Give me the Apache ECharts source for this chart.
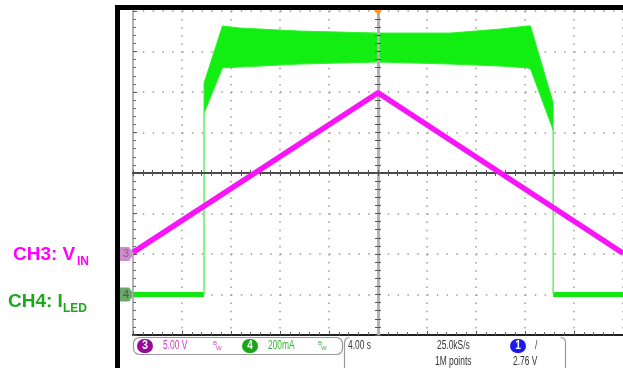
<!DOCTYPE html>
<html>
<head>
<meta charset="utf-8">
<script src="https://cdn.jsdelivr.net/npm/echarts@6/dist/echarts.min.js"></script>
<style>
  html, body { margin: 0; padding: 0; background: #fff; }
  #scope { width: 623px; height: 368px; }
</style>
</head>
<body>
<div id="scope"></div>
<script>
// CH3: input voltage ramp, time in s, volts
const vinTime = [-20, 0, 20]
const vinVolts = [0.2, 19.9, 0.1]

// CH4: LED current in mA
const ledOnTime = -14.2
const ledOffTime = 14.3
const ledOffLevel = 0
const bandTime = [-14.2, -12.7, -11.3, -6.4, 0, 5.9, 10.0, 12.2, 12.45, 14.3]
const bandTop = [1044, 1326, 1316, 1301, 1291, 1291, 1311, 1326, 1326, 946]
const bandBottom = [895, 1119, 1123, 1138, 1148, 1138, 1128, 1119, 1114, 812]

// scope settings: 4.00 s/div, 5.00 V/div, 200 mA/div
const timeMin = -20, timeMax = 20, timeDiv = 4
const voltMin = -10, voltMax = 30
const ampMin = -200, ampMax = 1400
const divMin = -4, divMax = 4

const infoFont = '12px "Liberation Sans", Arial, sans-serif'
const chart = echarts.init(document.getElementById('scope'))

const gap = [0, '-']

function centerX(position) {
  return {
    type: 'value', min: timeMin, max: timeMax, interval: timeDiv, position, z: 3,
    axisLine: { onZero: true, onZeroAxisIndex: 2, lineStyle: { color: '#4a4a4a', width: 2 } },
    axisTick: { show: true, length: 3, lineStyle: { color: '#555' } },
    minorTick: { show: true, splitNumber: 5, length: 3, lineStyle: { color: '#555' } },
    axisLabel: { show: false },
    splitLine: { show: false },
  }
}

function centerY(position) {
  return {
    type: 'value', min: divMin, max: divMax, interval: 1, position, z: 3,
    axisLine: { onZero: true, onZeroAxisIndex: 0, lineStyle: { color: '#b0b0b0', width: 2.5 } },
    axisTick: { show: true, length: 3, lineStyle: { color: '#555' } },
    minorTick: { show: true, splitNumber: 5, length: 3, lineStyle: { color: '#555' } },
    axisLabel: { show: false },
    splitLine: { show: false },
  }
}

// switching ripple band of the LED current, drawn between its two envelopes
function renderBand(params, api) {
  const upper = bandTime.map((t, i) => api.coord([t, bandTop[i]]))
  const lower = bandTime.map((t, i) => api.coord([t, bandBottom[i]])).reverse()
  return {
    type: 'polygon',
    shape: { points: upper.concat(lower) },
    style: { fill: '#12ee12', stroke: '#2af22a', lineWidth: 1 },
  }
}

const option = {
  animation: false,
  backgroundColor: '#fff',
  grid: { left: 133, right: 0, top: 11, bottom: 33 },
  xAxis: [
    {
      type: 'value', min: timeMin, max: timeMax, interval: timeDiv, position: 'bottom',
      axisLine: { onZero: false, lineStyle: { color: '#222', width: 2 } },
      axisTick: { show: true, inside: true, length: 4, lineStyle: { color: '#555' } },
      minorTick: { show: true, splitNumber: 5, length: 3, lineStyle: { color: '#666' } },
      axisLabel: { show: false },
      splitLine: { show: true, lineStyle: { color: '#9a9a9a', width: 1.5, type: [1.5, 6.6] } },
    },
    centerX('bottom'),
    centerX('top'),
  ],
  yAxis: [
    { type: 'value', min: voltMin, max: voltMax, show: false },
    { type: 'value', min: ampMin, max: ampMax, show: false },
    {
      type: 'value', min: divMin, max: divMax, interval: 1, position: 'left',
      axisLine: { onZero: false, lineStyle: { color: '#b4b4b4', width: 2 } },
      axisTick: { show: true, inside: true, length: 4, lineStyle: { color: '#555' } },
      minorTick: { show: true, splitNumber: 5, length: 3, lineStyle: { color: '#666' } },
      axisLabel: { show: false },
      splitLine: { show: true, lineStyle: { color: '#9a9a9a', width: 1.5, type: [1.5, 8.3] } },
    },
    centerY('left'),
    centerY('right'),
  ],
  series: [
    {
      name: 'CH4 off',
      type: 'line', xAxisIndex: 0, yAxisIndex: 1, z: 2,
      showSymbol: false, connectNulls: false,
      lineStyle: { color: '#14e614', width: 5 },
      data: [[timeMin, ledOffLevel], [ledOnTime, ledOffLevel], gap, [ledOffTime, ledOffLevel], [timeMax, ledOffLevel]],
    },
    {
      name: 'CH4 edge',
      type: 'line', xAxisIndex: 0, yAxisIndex: 1, z: 2,
      showSymbol: false, connectNulls: false,
      lineStyle: { color: '#66ee66', width: 1.5 },
      data: [
        [ledOnTime, ledOffLevel], [ledOnTime, bandBottom[0]], gap,
        [ledOffTime, bandBottom[bandBottom.length - 1]], [ledOffTime, ledOffLevel],
      ],
    },
    {
      name: 'CH4 band',
      type: 'custom', xAxisIndex: 0, yAxisIndex: 1, z: 2,
      data: [[0, 0]],
      renderItem: renderBand,
    },
    {
      name: 'CH3',
      type: 'line', xAxisIndex: 0, yAxisIndex: 0, z: 5,
      showSymbol: false,
      lineStyle: { color: '#fa14fa', width: 5.5 },
      data: vinTime.map((t, i) => [t, vinVolts[i]]),
    },
  ],
}

chart.setOption(option)

// markers that follow the scales
const ch3Y = chart.convertToPixel({ yAxisIndex: 0 }, 0)
const ch4Y = chart.convertToPixel({ yAxisIndex: 1 }, 0)
const trigX = chart.convertToPixel({ xAxisIndex: 0 }, 0)

function chMarker(y, fill, textFill, label) {
  return {
    type: 'group', z: 20,
    children: [
      { type: 'polygon', shape: { points: [[120, y - 7], [129, y - 7], [134, y], [129, y + 7], [120, y + 7]] }, style: { fill } },
      { type: 'text', x: 126, y: y, style: { text: label, fill: textFill, font: '11px "Liberation Sans", sans-serif', align: 'center', verticalAlign: 'middle' } },
    ],
  }
}

function txt(x, y, text, fill, font, scaleX) {
  return { type: 'text', x, y, z: 20, scaleX: scaleX || 1, style: { text, fill, font, align: 'left', verticalAlign: 'middle' } }
}

function info(x, y, text, fill) {
  return txt(x, y, text, fill, infoFont, 0.7)
}

function badge(cx, cy, label, fill) {
  return {
    type: 'group', z: 20,
    children: [
      { type: 'rect', shape: { x: cx - 8, y: cy - 7, width: 16, height: 14, r: 7 }, style: { fill } },
      { type: 'text', x: cx, y: cy, scaleX: 0.85, style: { text: label, fill: '#fff', font: 'bold 12px "Liberation Sans", sans-serif', align: 'center', verticalAlign: 'middle' } },
    ],
  }
}

function bwIcon(x, fill) {
  return {
    type: 'group', z: 20,
    children: [
      { type: 'text', x: x, y: 343, style: { text: 'B', fill, font: '6px "Liberation Sans", sans-serif', verticalAlign: 'middle' } },
      { type: 'text', x: x + 3, y: 348, style: { text: 'W', fill, font: '6px "Liberation Sans", sans-serif', verticalAlign: 'middle' } },
    ],
  }
}

function bracket(points) {
  return { type: 'polyline', z: 20, shape: { points }, style: { fill: 'none', stroke: '#999', lineWidth: 1.2 } }
}

chart.setOption({
  graphic: [
    // frame
    { type: 'rect', z: 20, shape: { x: 115, y: 5, width: 5, height: 363 }, style: { fill: '#000' } },
    { type: 'rect', z: 20, shape: { x: 115, y: 5, width: 508, height: 5 }, style: { fill: '#000' } },
    // trigger position
    { type: 'polygon', z: 20, shape: { points: [[trigX - 4, 10], [trigX + 4, 10], [trigX, 15]] }, style: { fill: '#ff9a1a' } },
    chMarker(ch3Y, '#cf8ccf', '#8a5a8a', '3'),
    chMarker(ch4Y, '#6aa86a', '#3f5f3f', '4'),
    // channel labels
    txt(13, 255, 'CH3: V', '#ff00ff', 'bold 19px "Liberation Sans", Arial, sans-serif'),
    txt(77, 262, 'IN', '#ff00ff', 'bold 12px "Liberation Sans", Arial, sans-serif'),
    txt(8, 302, 'CH4: I', '#1ea81e', 'bold 19px "Liberation Sans", Arial, sans-serif'),
    txt(63, 309, 'LED', '#1ea81e', 'bold 12px "Liberation Sans", Arial, sans-serif'),
    // channel settings box
    { type: 'rect', z: 20, shape: { x: 133.5, y: 337.5, width: 209, height: 17, r: 6 }, style: { fill: 'none', stroke: '#999', lineWidth: 1.2 } },
    badge(145, 346, '3', '#9a0a9a'),
    info(163, 346, '5.00 V', '#cc3acc'),
    bwIcon(213, '#cc3acc'),
    badge(250, 346, '4', '#1aa51a'),
    info(268, 346, '200mA', '#2fb82f'),
    bwIcon(318, '#2fb82f'),
    // timebase / trigger box
    bracket([[349.5, 337.5], [346.5, 338.2], [345, 340], [344.5, 343], [344.5, 368]]),
    bracket([[560.5, 337.5], [563.5, 338.2], [565, 340], [565.5, 343], [565.5, 368]]),
    info(348, 346, '4.00 s', '#333'),
    info(437, 346, '25.0kS/s', '#333'),
    info(435, 362, '1M points', '#333'),
    badge(518, 346, '1', '#1a1aee'),
    info(535, 346, '/', '#333'),
    info(513, 362, '2.76 V', '#333'),
  ],
})
</script>
</body>
</html>
